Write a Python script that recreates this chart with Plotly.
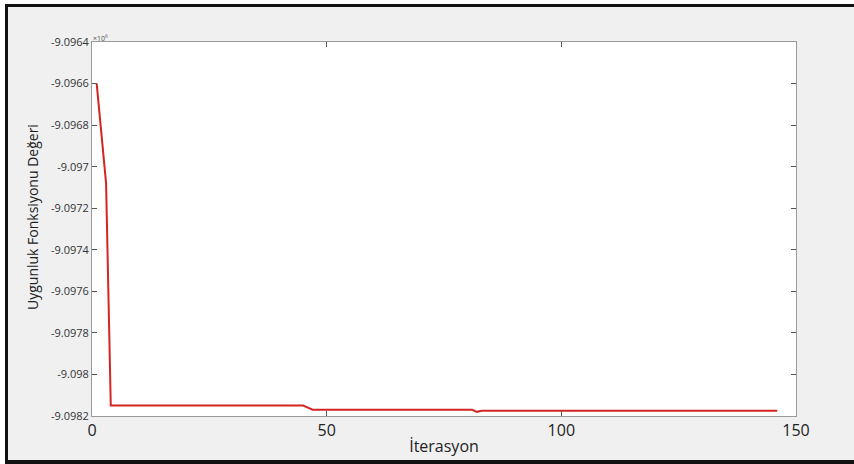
import plotly.graph_objects as go

# Best fitness value (x10^6) at the iterations where it changes; flat in between
iterations = [1, 2, 3, 4, 45, 46, 47, 81, 82, 83, 146]
fitness = [-9.0966, -9.09684, -9.09708, -9.09815, -9.09815, -9.09816,
           -9.09817, -9.09817, -9.09818, -9.098175, -9.098175]

y_ticks = [-9.0964, -9.0966, -9.0968, -9.097, -9.0972, -9.0974,
           -9.0976, -9.0978, -9.098, -9.0982]
y_tick_text = ["-9.0964", "-9.0966", "-9.0968", "-9.097", "-9.0972", "-9.0974",
               "-9.0976", "-9.0978", "-9.098", "-9.0982"]
x_ticks = [0, 50, 100, 150]

W, H = 854, 464
L, R, T, B = 92, 796, 42, 416


def px(xp):
    return (xp - L) / (R - L)


def py(yp):
    return (B - yp) / (B - T)


fig = go.Figure()
fig.add_trace(go.Scatter(
    x=iterations, y=fitness, mode="lines",
    line=dict(color="#d42424", width=2),
    showlegend=False, hoverinfo="skip",
))

font_family = "Open Sans, DejaVu Sans, sans-serif"

fig.update_layout(
    width=W, height=H,
    margin=dict(l=L, r=W - R, t=T, b=H - B),
    paper_bgcolor="#f0f0f0",
    plot_bgcolor="#ffffff",
    font=dict(family=font_family, color="#222222"),
    xaxis=dict(
        range=[0, 150], tickvals=x_ticks, ticks="inside", ticklen=5,
        tickcolor="#555555", showline=True, linecolor="#9a9a9a", linewidth=1,
        mirror="ticks", showgrid=False, zeroline=False,
        tickfont=dict(size=16, color="#222222"),
        title=dict(text="İterasyon", font=dict(size=16, color="#222222"), standoff=0),
    ),
    yaxis=dict(
        range=[-9.0982, -9.0964], tickvals=y_ticks, ticktext=y_tick_text,
        ticks="inside", ticklen=5, tickcolor="#555555",
        showline=True, linecolor="#9a9a9a", linewidth=1, mirror="ticks",
        showgrid=False, zeroline=False,
        tickfont=dict(size=11, color="#333333"),
    ),
    annotations=[
        dict(text="×10<sup>6</sup>", x=px(91), y=py(38), xref="paper", yref="paper",
             xanchor="left", yanchor="middle", showarrow=False,
             font=dict(size=7, color="#555555")),
        dict(text="Uygunluk Fonksiyonu Değeri", x=px(32), y=py(217),
             xref="paper", yref="paper", xanchor="center", yanchor="middle",
             textangle=-90, showarrow=False,
             font=dict(size=14, color="#222222")),
    ],
    shapes=[
        # white strips outside the frame
        dict(type="rect", xref="paper", yref="paper", x0=px(0), x1=px(5),
             y0=py(H), y1=py(0), fillcolor="#ffffff", line=dict(width=0)),
        dict(type="rect", xref="paper", yref="paper", x0=px(0), x1=px(W),
             y0=py(4), y1=py(0), fillcolor="#ffffff", line=dict(width=0)),
        # black frame edges
        dict(type="rect", xref="paper", yref="paper", x0=px(5), x1=px(8),
             y0=py(H), y1=py(4), fillcolor="#111111", line=dict(width=0)),
        dict(type="rect", xref="paper", yref="paper", x0=px(5), x1=px(W),
             y0=py(7), y1=py(4), fillcolor="#111111", line=dict(width=0)),
        dict(type="rect", xref="paper", yref="paper", x0=px(5), x1=px(W),
             y0=py(H), y1=py(460), fillcolor="#111111", line=dict(width=0)),
    ],
)

fig.write_html("out.html")
